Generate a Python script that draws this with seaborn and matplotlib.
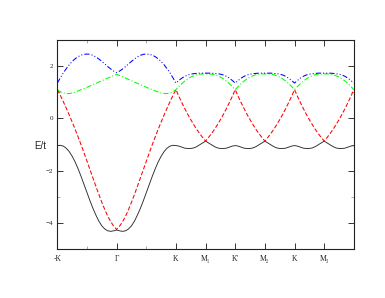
import numpy as np
import matplotlib
matplotlib.use("Agg")
import matplotlib.pyplot as plt
import seaborn as sns

# k-path: -K -> Gamma -> K -> M1 -> K' -> M2 -> K -> M3 -> (K'), sampled every 0.1
k = np.round(np.arange(101) * 0.1, 1)

tick_pos = [0, 2, 4, 5, 6, 7, 8, 9]
tick_labels = ["-K", "Γ", "K", "M₁", "K'", "M₂", "K", "M₃"]

# band energies (E/t)
# -K -> Gamma -> K part (41 points)
black_left = [-1.04, -1.03, -1.06, -1.14, -1.27, -1.45, -1.67, -1.93, -2.22, -2.53,
              -2.84, -3.15, -3.44, -3.70, -3.93, -4.11, -4.23, -4.30, -4.32, -4.30,
              -4.27,
              -4.30, -4.32, -4.30, -4.23, -4.11, -3.93, -3.70, -3.44, -3.15, -2.84,
              -2.53, -2.22, -1.93, -1.67, -1.45, -1.27, -1.14, -1.06, -1.03, -1.04]
red_left = [1.10, 0.88, 0.64, 0.39, 0.13, -0.14, -0.42, -0.71, -1.01, -1.32,
            -1.64, -1.96, -2.28, -2.60, -2.91, -3.21, -3.49, -3.74, -3.95, -4.12,
            -4.25,
            -4.12, -3.95, -3.74, -3.49, -3.21, -2.91, -2.60, -2.28, -1.96, -1.64,
            -1.32, -1.01, -0.71, -0.42, -0.14, 0.13, 0.39, 0.64, 0.88, 1.10]
green_left = [1.10, 1.02, 0.97, 0.95, 0.95, 0.97, 1.01, 1.05, 1.10, 1.14,
              1.19, 1.24, 1.29, 1.34, 1.39, 1.44, 1.49, 1.54, 1.59, 1.64,
              1.68,
              1.64, 1.59, 1.54, 1.49, 1.44, 1.39, 1.34, 1.29, 1.24, 1.19,
              1.14, 1.10, 1.05, 1.01, 0.97, 0.95, 0.95, 0.97, 1.02, 1.10]
blue_left = [1.35, 1.55, 1.74, 1.90, 2.05, 2.18, 2.28, 2.36, 2.42, 2.45,
             2.46, 2.45, 2.41, 2.35, 2.27, 2.18, 2.08, 1.98, 1.89, 1.81,
             1.75,
             1.81, 1.89, 1.98, 2.08, 2.18, 2.27, 2.35, 2.41, 2.45, 2.46,
             2.45, 2.42, 2.36, 2.28, 2.18, 2.05, 1.90, 1.74, 1.55, 1.35]

# K -> M and M -> K' pieces (10 points each), the path repeats them 3 times
black_km = [-1.06, -1.10, -1.14, -1.15, -1.15, -1.13, -1.08, -1.01, -0.94, -0.87]
black_mk = [-0.94, -1.01, -1.08, -1.13, -1.15, -1.15, -1.14, -1.10, -1.06, -1.04]
red_km = [0.84, 0.60, 0.37, 0.15, -0.05, -0.24, -0.42, -0.58, -0.73, -0.87]
red_mk = [-0.73, -0.58, -0.42, -0.24, -0.05, 0.15, 0.37, 0.60, 0.84, 1.10]
green_km = [1.22, 1.33, 1.43, 1.51, 1.58, 1.63, 1.67, 1.69, 1.70, 1.70]
green_mk = [1.70, 1.69, 1.67, 1.63, 1.58, 1.51, 1.43, 1.33, 1.22, 1.10]
blue_km = [1.45, 1.54, 1.61, 1.66, 1.69, 1.71, 1.72, 1.73, 1.73, 1.73]
blue_mk = [1.73, 1.73, 1.72, 1.71, 1.69, 1.66, 1.61, 1.54, 1.45, 1.35]

black = black_left + (black_km + black_mk) * 3
red = red_left + (red_km + red_mk) * 3
green = green_left + (green_km + green_mk) * 3
blue = blue_left + (blue_km + blue_mk) * 3

sns.set_theme(style="ticks")
plt.rcParams['font.family'] = ['Liberation Serif', 'DejaVu Serif']

fig = plt.figure(figsize=(3.85, 2.98), dpi=100)
ax = fig.add_axes([0.149, 0.164, 0.770, 0.702])

lw = 0.75
sns.lineplot(x=k, y=black, color='#2a2a2a', lw=0.65, sort=False, estimator=None, ax=ax)
sns.lineplot(x=k, y=red, color='#ff0000', lw=lw, sort=False, estimator=None, ax=ax,
             linestyle=(0, (4, 2)))
sns.lineplot(x=k, y=green, color='#00ff00', lw=lw, sort=False, estimator=None, ax=ax,
             linestyle=(0, (5, 2, 1, 2)))
sns.lineplot(x=k, y=blue, color='#0000ff', lw=lw, sort=False, estimator=None, ax=ax,
             linestyle=(0, (5, 2, 1, 2, 1, 2)))

ax.set_xlim(0, 10)
ax.set_ylim(-5, 3)
ax.set_xticks(tick_pos)
ax.set_xticklabels(tick_labels)
ax.set_xticks([1, 3], minor=True)
ax.set_yticks([-4, -2, 0, 2])
ax.set_yticks([-5, -3, -1, 1, 3], minor=True)

ax.tick_params(which='both', direction='in', top=True, right=True, width=0.7,
               colors='#333333', labelcolor='#222222')
ax.tick_params(which='major', length=4.3)
ax.tick_params(which='minor', length=2.2, colors='#aaaaaa')
ax.tick_params(axis='x', labelsize=5.5, pad=4.3)
ax.tick_params(axis='y', labelsize=5, pad=2.7)

for s in ax.spines.values():
    s.set_linewidth(0.8)
    s.set_color('#222222')
    s.set_visible(True)

ax.set_xlabel("")
ax.set_ylabel("E/t", rotation=0, fontsize=7, family=['Liberation Sans', 'DejaVu Sans'],
              ha='center', va='center')
ax.yaxis.set_label_coords(-0.058, 0.493)

fig.savefig("out.png", dpi=100)
